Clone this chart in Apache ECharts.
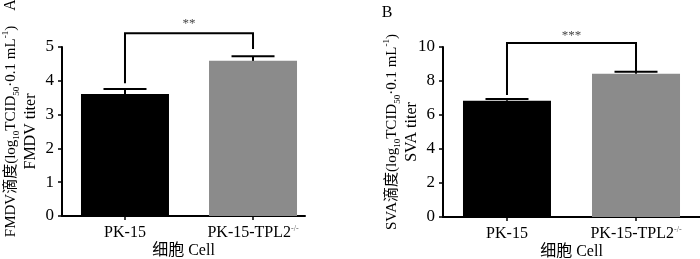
<!DOCTYPE html>
<html>
<head>
<meta charset="utf-8">
<script src="https://cdn.jsdelivr.net/npm/echarts@6/dist/echarts.min.js"></script>
<style>
  html, body { margin: 0; padding: 0; background: #fff; }
  #chart { width: 700px; height: 259px; }
</style>
</head>
<body>
<div id="chart"></div>
<script>
  // categories (x positions 1 and 2)
  const cells = ['PK-15', 'PK-15-TPL2'];
  const cellPos = [1, 2];
  const barColors = ['#000000', '#8b8b8b'];

  // panel A: FMDV titer
  const fmdvMean = [3.61, 4.59];
  const fmdvSem = [0.15, 0.14];
  // bracket: left leg bottom, right leg bottom, top, star text
  const fmdvSig = [3.93, 4.94, 5.41, 5.68];
  const fmdvStars = '**';
  const fmdvTicks = [0, 5, 1];

  // panel B: SVA titer
  const svaMean = [6.84, 8.43];
  const svaSem = [0.1, 0.12];
  const svaSig = [7.18, 8.53, 10.24, 10.68];
  const svaStars = '***';
  const svaTicks = [0, 10, 2];

  const serif = "'Liberation Serif', 'Noto Sans CJK SC', serif";

  const chart = echarts.init(document.getElementById('chart'));

  function errRender(params, api) {
    const x = api.value(0), m = api.value(1), e = api.value(2);
    const base = api.coord([x, m]);
    const top = api.coord([x, m + e]);
    const hw = 21.5;
    return {
      type: 'group',
      children: [
        {type: 'line', shape: {x1: base[0], y1: base[1], x2: top[0], y2: top[1]}, style: {stroke: '#000', lineWidth: 2}},
        {type: 'line', shape: {x1: top[0] - hw, y1: top[1], x2: top[0] + hw, y2: top[1]}, style: {stroke: '#000', lineWidth: 2}}
      ]
    };
  }

  function sigRender(stars) {
    return function (params, api) {
      const x1 = api.value(0), x2 = api.value(1);
      const p1 = api.coord([x1, api.value(2)]);
      const p2 = api.coord([x1, api.value(4)]);
      const p3 = api.coord([x2, api.value(4)]);
      const p4 = api.coord([x2, api.value(3)]);
      const t = api.coord([(x1 + x2) / 2, api.value(5)]);
      return {
        type: 'group',
        children: [
          {type: 'polyline', shape: {points: [p1, p2, p3, p4]}, style: {stroke: '#000', lineWidth: 2, fill: null}},
          {type: 'text', x: t[0], y: t[1], style: {text: stars, fill: '#444', font: '13px ' + serif, align: 'center', verticalAlign: 'middle'}}
        ]
      };
    };
  }

  const yNameRich = {
    t: {fontSize: 15, lineHeight: 20, fontFamily: serif, color: '#000'},
    u: {fontSize: 16, lineHeight: 20, fontFamily: serif, color: '#000'},
    s: {fontSize: 9, verticalAlign: 'bottom', fontFamily: serif, color: '#000'},
    p: {fontSize: 9, verticalAlign: 'top', fontFamily: serif, color: '#000'}
  };

  function xAxisFor(idx, min, max) {
    return {
      gridIndex: idx,
      type: 'value',
      min: min,
      max: max,
      splitLine: {show: false},
      axisLine: {lineStyle: {color: '#000', width: 2}},
      axisTick: {customValues: cellPos, length: 4, lineStyle: {color: '#000', width: 1.5}},
      axisLabel: {
        customValues: cellPos,
        margin: 9,
        formatter: function (v) {
          const i = cellPos.indexOf(v);
          return i === 1 ? '{a|' + cells[i] + '}{p|-/-}' : '{a|' + cells[i] + '}';
        },
        rich: {
          a: {fontSize: 16, fontFamily: serif, color: '#000'},
          p: {fontSize: 8, verticalAlign: 'top', fontFamily: serif, color: '#555'}
        }
      },
      name: '细胞 Cell',
      nameLocation: 'middle',
      nameGap: 27,
      nameMoveOverlap: false,
      nameTextStyle: {fontSize: 16, fontFamily: serif, color: '#000'}
    };
  }

  function yAxisFor(idx, ticks, name) {
    return {
      gridIndex: idx,
      type: 'value',
      min: ticks[0],
      max: ticks[1],
      interval: ticks[2],
      splitLine: {show: false},
      axisLine: {show: true, lineStyle: {color: '#000', width: 2}},
      axisTick: {show: true, length: 4, lineStyle: {color: '#000', width: 1.5}},
      axisLabel: {fontSize: 17, fontFamily: serif, color: '#000', margin: 8},
      name: name,
      nameLocation: 'middle',
      nameRotate: 90,
      nameGap: 21,
      nameMoveOverlap: false,
      nameTextStyle: {fontSize: 15, lineHeight: 20, fontFamily: serif, color: '#000', rich: yNameRich}
    };
  }

  function barData(means) {
    return means.map((m, i) => ({value: [cellPos[i], m], itemStyle: {color: barColors[i]}}));
  }
  function errData(means, sems) {
    return means.map((m, i) => [cellPos[i], m, sems[i]]);
  }

  chart.setOption({
    animation: false,
    backgroundColor: '#fff',
    textStyle: {fontFamily: serif},
    grid: [
      {left: 62, right: 395, top: 47, bottom: 43, outerBoundsMode: 'none'},
      {left: 443, right: 0, top: 47, bottom: 42, outerBoundsMode: 'none'}
    ],
    xAxis: [
      xAxisFor(0, 0.508, 2.406),
      xAxisFor(1, 0.504, 2.496)
    ],
    yAxis: [
      yAxisFor(0, fmdvTicks, '{t|FMDV滴度(log}{s|10}{t|TCID}{s|50}{t|·0.1 mL}{p|-1}{t|)}\n{u|FMDV titer}'),
      yAxisFor(1, svaTicks, '{t|SVA滴度(log}{s|10}{t|TCID}{s|50}{t|·0.1 mL}{p|-1}{t|)}\n{u|SVA titer}')
    ],
    graphic: [
      {type: 'text', x: 11, y: 5, rotation: Math.PI / 2, style: {text: 'A', font: '16px ' + serif, fill: '#000', align: 'center', verticalAlign: 'middle'}},
      {type: 'text', x: 387, y: 13, style: {text: 'B', font: '16px ' + serif, fill: '#000', align: 'center', verticalAlign: 'middle'}}
    ],
    series: [
      {type: 'bar', xAxisIndex: 0, yAxisIndex: 0, barWidth: 88, data: barData(fmdvMean)},
      {type: 'custom', xAxisIndex: 0, yAxisIndex: 0, z: 3, clip: false, renderItem: errRender, data: errData(fmdvMean, fmdvSem)},
      {type: 'custom', xAxisIndex: 0, yAxisIndex: 0, z: 3, clip: false, renderItem: sigRender(fmdvStars),
        data: [[cellPos[0], cellPos[1]].concat(fmdvSig)]},
      {type: 'bar', xAxisIndex: 1, yAxisIndex: 1, barWidth: 88, data: barData(svaMean)},
      {type: 'custom', xAxisIndex: 1, yAxisIndex: 1, z: 3, clip: false, renderItem: errRender, data: errData(svaMean, svaSem)},
      {type: 'custom', xAxisIndex: 1, yAxisIndex: 1, z: 3, clip: false, renderItem: sigRender(svaStars),
        data: [[cellPos[0], cellPos[1]].concat(svaSig)]}
    ]
  });
</script>
</body>
</html>
